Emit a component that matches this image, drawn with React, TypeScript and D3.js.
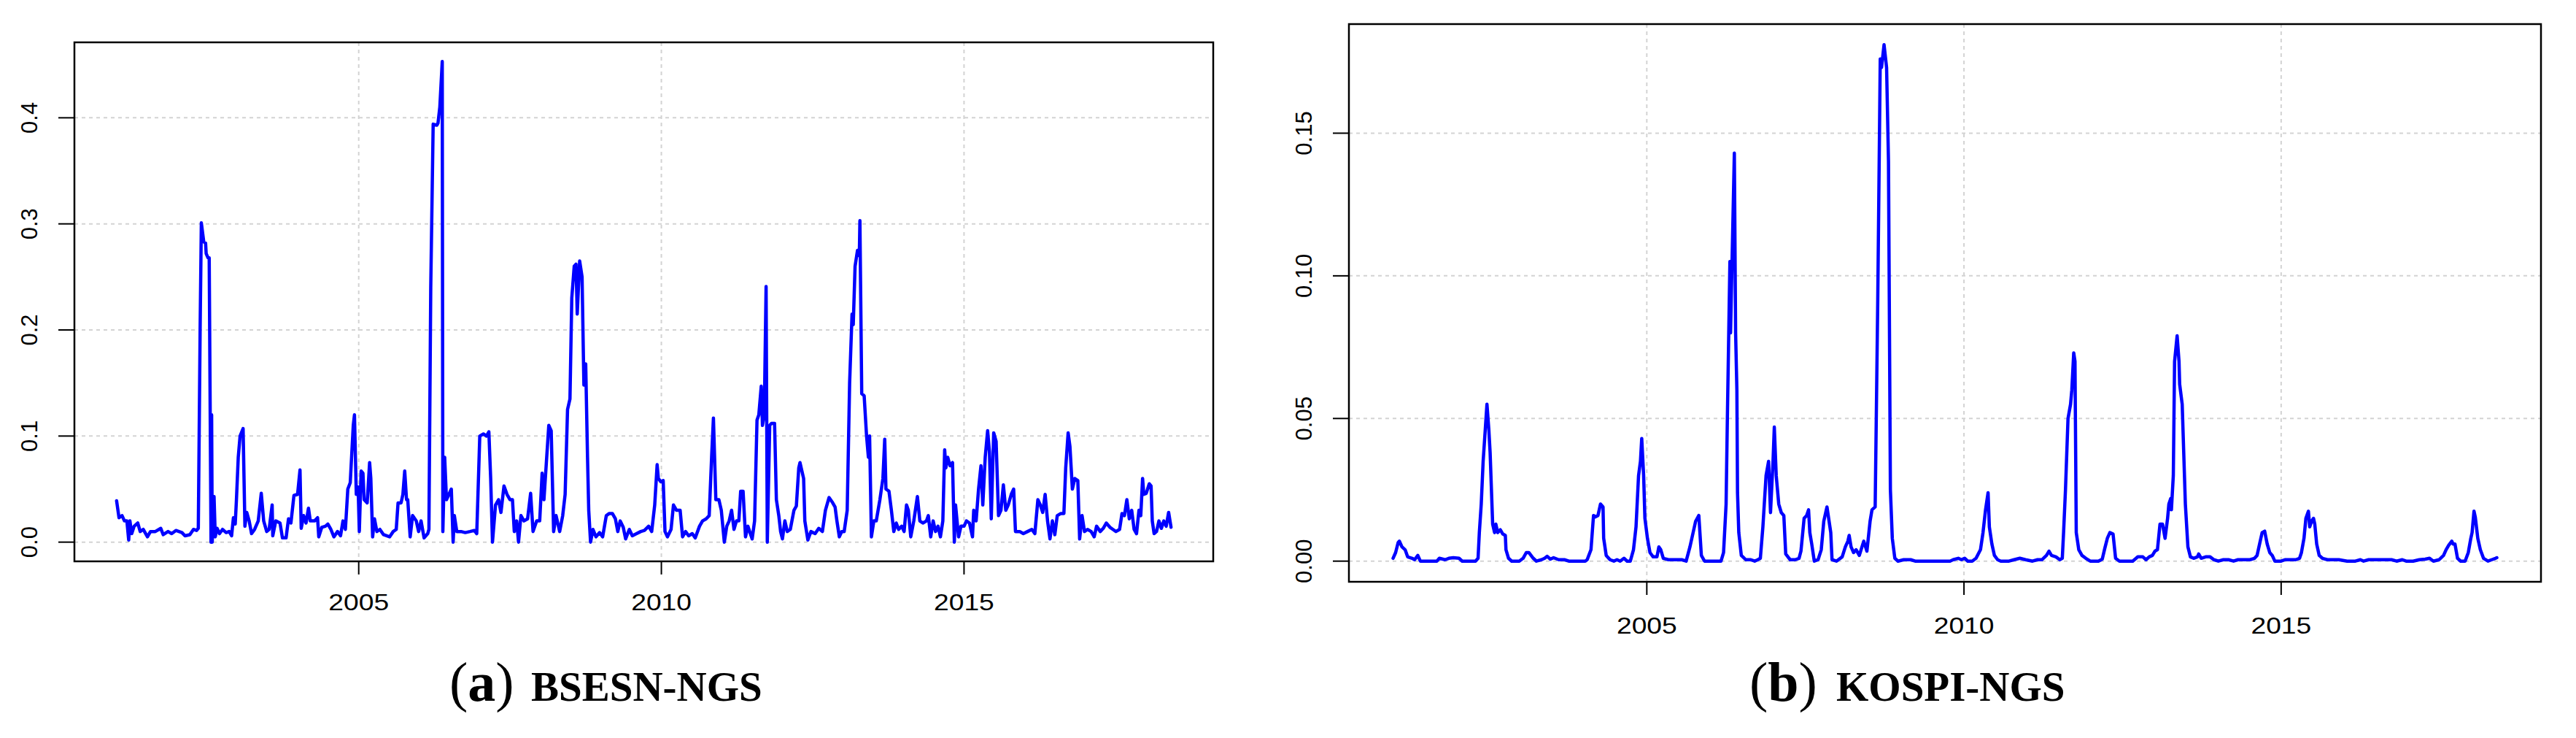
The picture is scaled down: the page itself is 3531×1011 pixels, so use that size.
import React from 'react'
import * as d3 from 'd3'

type Pt = [number, number]

// weekly-ish readings (decimal year, value)
const bsesnSeries: Pt[] = [
  [2001.00, 0.039], [2001.04, 0.023], [2001.09, 0.025], [2001.13, 0.02], [2001.17, 0.02], [2001.20, 0.002],
  [2001.22, 0.02], [2001.25, 0.008], [2001.29, 0.015], [2001.35, 0.018], [2001.39, 0.01], [2001.44, 0.012],
  [2001.51, 0.005], [2001.56, 0.01], [2001.64, 0.01], [2001.73, 0.013], [2001.77, 0.007], [2001.85, 0.01],
  [2001.91, 0.008], [2001.98, 0.011], [2002.08, 0.009], [2002.13, 0.006], [2002.21, 0.007], [2002.27, 0.012],
  [2002.32, 0.011], [2002.35, 0.013], [2002.38, 0.2], [2002.40, 0.301], [2002.44, 0.283], [2002.47, 0.282],
  [2002.48, 0.272], [2002.51, 0.268], [2002.53, 0.268], [2002.56, 0.0], [2002.57, 0.12], [2002.58, 0.0],
  [2002.61, 0.043], [2002.63, 0.005], [2002.66, 0.013], [2002.70, 0.008], [2002.75, 0.012], [2002.81, 0.009],
  [2002.86, 0.01], [2002.90, 0.006], [2002.93, 0.023], [2002.96, 0.017], [2002.98, 0.04], [2003.01, 0.08],
  [2003.04, 0.1], [2003.09, 0.107], [2003.12, 0.015], [2003.15, 0.028], [2003.19, 0.02], [2003.23, 0.008],
  [2003.28, 0.012], [2003.34, 0.02], [2003.39, 0.046], [2003.43, 0.02], [2003.48, 0.01], [2003.52, 0.012],
  [2003.57, 0.035], [2003.58, 0.006], [2003.63, 0.02], [2003.70, 0.018], [2003.74, 0.004], [2003.80, 0.004],
  [2003.84, 0.022], [2003.88, 0.018], [2003.93, 0.044], [2003.99, 0.045], [2004.03, 0.068], [2004.05, 0.013],
  [2004.09, 0.025], [2004.13, 0.018], [2004.17, 0.032], [2004.20, 0.02], [2004.27, 0.02], [2004.32, 0.023],
  [2004.34, 0.005], [2004.39, 0.014], [2004.45, 0.015], [2004.49, 0.017], [2004.54, 0.012], [2004.59, 0.005],
  [2004.65, 0.01], [2004.70, 0.006], [2004.74, 0.02], [2004.78, 0.012], [2004.82, 0.05], [2004.86, 0.056],
  [2004.91, 0.11], [2004.93, 0.12], [2004.96, 0.045], [2004.99, 0.052], [2005.01, 0.01], [2005.04, 0.067],
  [2005.07, 0.065], [2005.09, 0.04], [2005.14, 0.037], [2005.18, 0.075], [2005.20, 0.06], [2005.23, 0.005],
  [2005.26, 0.022], [2005.30, 0.01], [2005.35, 0.012], [2005.41, 0.007], [2005.46, 0.006], [2005.51, 0.005],
  [2005.57, 0.01], [2005.62, 0.012], [2005.65, 0.037], [2005.70, 0.037], [2005.73, 0.045], [2005.76, 0.067],
  [2005.79, 0.04], [2005.81, 0.04], [2005.85, 0.005], [2005.89, 0.025], [2005.95, 0.02], [2005.99, 0.01],
  [2006.03, 0.02], [2006.08, 0.004], [2006.14, 0.008], [2006.16, 0.012], [2006.19, 0.24], [2006.23, 0.394],
  [2006.29, 0.393], [2006.31, 0.395], [2006.34, 0.41], [2006.38, 0.453], [2006.39, 0.01], [2006.42, 0.08],
  [2006.45, 0.04], [2006.49, 0.045], [2006.53, 0.05], [2006.56, 0.0], [2006.58, 0.025], [2006.62, 0.01],
  [2006.69, 0.01], [2006.76, 0.009], [2006.84, 0.01], [2006.91, 0.011], [2006.95, 0.008], [2007.00, 0.1],
  [2007.06, 0.102], [2007.11, 0.1], [2007.15, 0.104], [2007.18, 0.06], [2007.21, 0.0], [2007.26, 0.035],
  [2007.31, 0.04], [2007.35, 0.028], [2007.40, 0.053], [2007.45, 0.045], [2007.50, 0.04], [2007.54, 0.04],
  [2007.57, 0.01], [2007.61, 0.02], [2007.64, 0.0], [2007.68, 0.025], [2007.73, 0.02], [2007.79, 0.022],
  [2007.84, 0.046], [2007.88, 0.01], [2007.94, 0.02], [2007.99, 0.02], [2008.03, 0.065], [2008.06, 0.04],
  [2008.10, 0.075], [2008.14, 0.11], [2008.18, 0.105], [2008.22, 0.01], [2008.26, 0.025], [2008.32, 0.01],
  [2008.37, 0.025], [2008.41, 0.045], [2008.45, 0.125], [2008.49, 0.135], [2008.52, 0.23], [2008.56, 0.26],
  [2008.59, 0.262], [2008.61, 0.215], [2008.65, 0.265], [2008.69, 0.25], [2008.72, 0.148], [2008.75, 0.168],
  [2008.78, 0.08], [2008.80, 0.03], [2008.83, 0.0], [2008.87, 0.012], [2008.92, 0.005], [2008.98, 0.009],
  [2009.03, 0.005], [2009.09, 0.025], [2009.14, 0.027], [2009.19, 0.027], [2009.24, 0.022], [2009.28, 0.01],
  [2009.32, 0.02], [2009.37, 0.014], [2009.41, 0.003], [2009.47, 0.012], [2009.52, 0.006], [2009.59, 0.008],
  [2009.66, 0.01], [2009.72, 0.011], [2009.79, 0.015], [2009.84, 0.01], [2009.89, 0.035], [2009.93, 0.073],
  [2009.95, 0.06], [2009.99, 0.057], [2010.03, 0.058], [2010.06, 0.01], [2010.10, 0.005], [2010.16, 0.012],
  [2010.20, 0.035], [2010.25, 0.03], [2010.31, 0.03], [2010.35, 0.005], [2010.40, 0.01], [2010.45, 0.006],
  [2010.51, 0.008], [2010.56, 0.004], [2010.63, 0.015], [2010.68, 0.02], [2010.74, 0.022], [2010.79, 0.025],
  [2010.83, 0.08], [2010.86, 0.117], [2010.90, 0.04], [2010.95, 0.04], [2010.99, 0.03], [2011.04, 0.0],
  [2011.08, 0.015], [2011.12, 0.02], [2011.16, 0.03], [2011.20, 0.012], [2011.24, 0.02], [2011.28, 0.02],
  [2011.31, 0.048], [2011.35, 0.048], [2011.39, 0.005], [2011.43, 0.015], [2011.47, 0.008], [2011.50, 0.003],
  [2011.54, 0.02], [2011.58, 0.115], [2011.61, 0.12], [2011.65, 0.147], [2011.67, 0.11], [2011.70, 0.12],
  [2011.73, 0.241], [2011.75, 0.0], [2011.79, 0.11], [2011.82, 0.112], [2011.87, 0.112], [2011.90, 0.04],
  [2011.94, 0.025], [2011.97, 0.01], [2012.00, 0.003], [2012.04, 0.02], [2012.08, 0.01], [2012.13, 0.012],
  [2012.19, 0.03], [2012.23, 0.034], [2012.27, 0.07], [2012.29, 0.075], [2012.35, 0.06], [2012.37, 0.02],
  [2012.42, 0.002], [2012.47, 0.01], [2012.54, 0.008], [2012.60, 0.013], [2012.66, 0.01], [2012.71, 0.03],
  [2012.77, 0.042], [2012.82, 0.038], [2012.87, 0.033], [2012.90, 0.02], [2012.94, 0.005], [2012.98, 0.01],
  [2013.02, 0.01], [2013.07, 0.03], [2013.11, 0.15], [2013.15, 0.215], [2013.17, 0.205], [2013.20, 0.26],
  [2013.24, 0.275], [2013.27, 0.27], [2013.28, 0.303], [2013.31, 0.14], [2013.35, 0.138], [2013.39, 0.1],
  [2013.42, 0.08], [2013.44, 0.1], [2013.47, 0.005], [2013.51, 0.02], [2013.55, 0.02], [2013.61, 0.04],
  [2013.66, 0.06], [2013.69, 0.097], [2013.71, 0.05], [2013.76, 0.048], [2013.80, 0.03], [2013.84, 0.01],
  [2013.88, 0.018], [2013.92, 0.012], [2013.97, 0.015], [2014.01, 0.01], [2014.05, 0.035], [2014.08, 0.03],
  [2014.12, 0.005], [2014.17, 0.02], [2014.23, 0.043], [2014.27, 0.02], [2014.32, 0.018], [2014.38, 0.02],
  [2014.41, 0.025], [2014.45, 0.005], [2014.49, 0.02], [2014.53, 0.01], [2014.57, 0.015], [2014.61, 0.005],
  [2014.65, 0.02], [2014.68, 0.087], [2014.70, 0.07], [2014.73, 0.08], [2014.77, 0.072], [2014.81, 0.075],
  [2014.84, 0.0], [2014.86, 0.035], [2014.91, 0.005], [2014.95, 0.015], [2015.00, 0.015], [2015.04, 0.02],
  [2015.09, 0.018], [2015.14, 0.005], [2015.16, 0.03], [2015.20, 0.02], [2015.24, 0.05], [2015.28, 0.072],
  [2015.31, 0.035], [2015.35, 0.08], [2015.39, 0.105], [2015.42, 0.085], [2015.45, 0.022], [2015.49, 0.103],
  [2015.53, 0.095], [2015.57, 0.025], [2015.61, 0.03], [2015.65, 0.054], [2015.69, 0.03], [2015.73, 0.035],
  [2015.78, 0.045], [2015.82, 0.05], [2015.85, 0.01], [2015.92, 0.01], [2015.98, 0.008], [2016.05, 0.01],
  [2016.12, 0.012], [2016.17, 0.008], [2016.22, 0.04], [2016.26, 0.035], [2016.30, 0.028], [2016.34, 0.045],
  [2016.38, 0.02], [2016.42, 0.003], [2016.46, 0.02], [2016.50, 0.007], [2016.54, 0.025], [2016.60, 0.027],
  [2016.65, 0.027], [2016.68, 0.07], [2016.72, 0.103], [2016.75, 0.09], [2016.79, 0.05], [2016.83, 0.06],
  [2016.88, 0.058], [2016.91, 0.003], [2016.95, 0.025], [2016.99, 0.01], [2017.04, 0.012], [2017.10, 0.01],
  [2017.15, 0.005], [2017.19, 0.015], [2017.25, 0.01], [2017.30, 0.013], [2017.35, 0.018], [2017.41, 0.014],
  [2017.46, 0.012], [2017.51, 0.01], [2017.57, 0.012], [2017.61, 0.027], [2017.65, 0.025], [2017.69, 0.04],
  [2017.73, 0.022], [2017.77, 0.03], [2017.81, 0.012], [2017.85, 0.008], [2017.89, 0.03], [2017.92, 0.025],
  [2017.95, 0.06], [2017.97, 0.045], [2018.01, 0.046], [2018.06, 0.055], [2018.09, 0.053], [2018.11, 0.02],
  [2018.14, 0.008], [2018.18, 0.01], [2018.22, 0.02], [2018.26, 0.013], [2018.30, 0.02], [2018.34, 0.015],
  [2018.38, 0.028], [2018.42, 0.014],
]

const kospiSeries: Pt[] = [
  [2001.00, 0.001], [2001.04, 0.003], [2001.08, 0.0065], [2001.10, 0.007], [2001.14, 0.005], [2001.19, 0.004],
  [2001.23, 0.0015], [2001.30, 0.001], [2001.34, 0.0005], [2001.39, 0.002], [2001.43, 0.0], [2001.56, 0.0],
  [2001.69, 0.0], [2001.73, 0.001], [2001.82, 0.0005], [2001.88, 0.001], [2001.95, 0.0012], [2002.04, 0.001],
  [2002.09, 0.0], [2002.19, 0.0], [2002.30, 0.0], [2002.34, 0.001], [2002.36, 0.01], [2002.39, 0.02],
  [2002.42, 0.035], [2002.45, 0.045], [2002.48, 0.055], [2002.51, 0.046], [2002.53, 0.038], [2002.57, 0.013],
  [2002.60, 0.01], [2002.62, 0.013], [2002.65, 0.01], [2002.69, 0.011], [2002.73, 0.0095], [2002.77, 0.009],
  [2002.78, 0.004], [2002.82, 0.001], [2002.87, 0.0], [2002.99, 0.0], [2003.05, 0.001], [2003.10, 0.003],
  [2003.14, 0.003], [2003.21, 0.001], [2003.26, 0.0], [2003.34, 0.0005], [2003.39, 0.001], [2003.43, 0.0017],
  [2003.48, 0.0007], [2003.53, 0.0012], [2003.61, 0.0005], [2003.70, 0.0005], [2003.77, 0.0], [2003.90, 0.0],
  [2004.03, 0.0], [2004.06, 0.0005], [2004.12, 0.004], [2004.16, 0.016], [2004.19, 0.0155], [2004.23, 0.016],
  [2004.27, 0.02], [2004.31, 0.019], [2004.32, 0.008], [2004.36, 0.002], [2004.42, 0.0005], [2004.48, 0.0],
  [2004.53, 0.0005], [2004.58, 0.0], [2004.64, 0.001], [2004.69, 0.0], [2004.74, 0.0], [2004.79, 0.004],
  [2004.83, 0.012], [2004.87, 0.03], [2004.90, 0.035], [2004.92, 0.043], [2004.95, 0.03], [2004.97, 0.015],
  [2005.01, 0.008], [2005.05, 0.003], [2005.10, 0.0015], [2005.16, 0.0015], [2005.19, 0.005], [2005.22, 0.004],
  [2005.26, 0.001], [2005.34, 0.0005], [2005.44, 0.0005], [2005.55, 0.0005], [2005.62, 0.0], [2005.68, 0.005],
  [2005.73, 0.01], [2005.77, 0.014], [2005.82, 0.016], [2005.86, 0.002], [2005.91, 0.0], [2006.04, 0.0],
  [2006.17, 0.0], [2006.21, 0.003], [2006.25, 0.02], [2006.27, 0.05], [2006.31, 0.105], [2006.32, 0.08],
  [2006.38, 0.143], [2006.40, 0.08], [2006.42, 0.06], [2006.43, 0.024], [2006.45, 0.01], [2006.49, 0.002],
  [2006.56, 0.0005], [2006.64, 0.0005], [2006.70, 0.0], [2006.75, 0.0005], [2006.79, 0.001], [2006.83, 0.012],
  [2006.88, 0.03], [2006.92, 0.035], [2006.95, 0.017], [2006.99, 0.035], [2007.01, 0.047], [2007.04, 0.03],
  [2007.08, 0.02], [2007.12, 0.017], [2007.16, 0.016], [2007.19, 0.0025], [2007.26, 0.0005], [2007.34, 0.0005],
  [2007.40, 0.001], [2007.43, 0.0035], [2007.48, 0.015], [2007.52, 0.016], [2007.55, 0.018], [2007.57, 0.01],
  [2007.60, 0.006], [2007.64, 0.0], [2007.70, 0.0005], [2007.75, 0.004], [2007.79, 0.014], [2007.84, 0.019],
  [2007.90, 0.01], [2007.92, 0.0005], [2007.99, 0.0], [2008.08, 0.0015], [2008.13, 0.005], [2008.17, 0.007],
  [2008.19, 0.009], [2008.22, 0.005], [2008.26, 0.003], [2008.30, 0.004], [2008.35, 0.002], [2008.42, 0.007],
  [2008.47, 0.0035], [2008.52, 0.014], [2008.55, 0.018], [2008.60, 0.019], [2008.64, 0.09], [2008.68, 0.176],
  [2008.70, 0.173], [2008.74, 0.181], [2008.78, 0.173], [2008.81, 0.14], [2008.84, 0.025], [2008.87, 0.008],
  [2008.91, 0.001], [2008.96, 0.0], [2009.05, 0.0005], [2009.16, 0.0005], [2009.23, 0.0], [2009.42, 0.0],
  [2009.61, 0.0], [2009.78, 0.0], [2009.83, 0.0005], [2009.91, 0.001], [2009.96, 0.0005], [2010.01, 0.001],
  [2010.06, 0.0], [2010.13, 0.0], [2010.19, 0.001], [2010.26, 0.004], [2010.30, 0.01], [2010.34, 0.018],
  [2010.38, 0.024], [2010.40, 0.012], [2010.44, 0.006], [2010.48, 0.002], [2010.53, 0.0005], [2010.58, 0.0],
  [2010.71, 0.0], [2010.79, 0.0005], [2010.88, 0.001], [2010.97, 0.0005], [2011.08, 0.0], [2011.16, 0.0005],
  [2011.23, 0.0005], [2011.30, 0.002], [2011.34, 0.0035], [2011.38, 0.002], [2011.45, 0.0015], [2011.51, 0.0005],
  [2011.55, 0.001], [2011.57, 0.01], [2011.60, 0.025], [2011.64, 0.05], [2011.68, 0.055], [2011.70, 0.06],
  [2011.73, 0.073], [2011.75, 0.07], [2011.77, 0.01], [2011.81, 0.004], [2011.86, 0.002], [2011.92, 0.001],
  [2011.99, 0.0], [2012.12, 0.0], [2012.18, 0.0007], [2012.22, 0.0045], [2012.26, 0.008], [2012.30, 0.01],
  [2012.35, 0.0095], [2012.39, 0.001], [2012.45, 0.0], [2012.56, 0.0], [2012.66, 0.0], [2012.74, 0.0015],
  [2012.82, 0.0015], [2012.87, 0.0005], [2012.92, 0.0015], [2012.97, 0.002], [2013.01, 0.0035], [2013.05, 0.004],
  [2013.09, 0.013], [2013.13, 0.013], [2013.17, 0.008], [2013.21, 0.015], [2013.23, 0.02], [2013.26, 0.022],
  [2013.27, 0.018], [2013.30, 0.03], [2013.32, 0.07], [2013.36, 0.079], [2013.39, 0.07], [2013.40, 0.062],
  [2013.44, 0.055], [2013.49, 0.02], [2013.53, 0.005], [2013.57, 0.0015], [2013.62, 0.001], [2013.68, 0.0015],
  [2013.70, 0.0025], [2013.74, 0.001], [2013.81, 0.0015], [2013.88, 0.0015], [2013.94, 0.0005], [2014.01, 0.0],
  [2014.09, 0.0005], [2014.17, 0.0005], [2014.25, 0.0], [2014.32, 0.0005], [2014.42, 0.0005], [2014.51, 0.0005],
  [2014.58, 0.001], [2014.62, 0.002], [2014.66, 0.006], [2014.70, 0.01], [2014.74, 0.0105], [2014.78, 0.006],
  [2014.82, 0.003], [2014.86, 0.002], [2014.90, 0.0], [2015.00, 0.0], [2015.06, 0.0005], [2015.16, 0.0005],
  [2015.23, 0.0005], [2015.29, 0.001], [2015.32, 0.003], [2015.36, 0.008], [2015.39, 0.015], [2015.43, 0.0175],
  [2015.45, 0.012], [2015.48, 0.014], [2015.51, 0.015], [2015.53, 0.013], [2015.56, 0.006], [2015.60, 0.002],
  [2015.65, 0.001], [2015.73, 0.0005], [2015.81, 0.0005], [2015.91, 0.0005], [2016.04, 0.0], [2016.17, 0.0],
  [2016.25, 0.0005], [2016.30, 0.0], [2016.38, 0.0005], [2016.45, 0.0005], [2016.56, 0.0005], [2016.66, 0.0005],
  [2016.74, 0.0005], [2016.82, 0.0], [2016.91, 0.0005], [2016.97, 0.0], [2017.08, 0.0], [2017.18, 0.0005],
  [2017.27, 0.0007], [2017.34, 0.001], [2017.40, 0.0], [2017.49, 0.0005], [2017.56, 0.002], [2017.60, 0.004],
  [2017.64, 0.0055], [2017.69, 0.007], [2017.71, 0.006], [2017.74, 0.006], [2017.78, 0.001], [2017.83, 0.0],
  [2017.90, 0.0], [2017.95, 0.003], [2017.99, 0.008], [2018.01, 0.01], [2018.04, 0.0175], [2018.06, 0.0155],
  [2018.10, 0.008], [2018.14, 0.004], [2018.19, 0.001], [2018.26, 0.0], [2018.32, 0.0005], [2018.38, 0.001],
  [2018.40, 0.0012],
]

const yearTicks = [2005, 2010, 2015]
const bsesnTicks = [0, 0.1, 0.2, 0.3, 0.4]
const kospiTicks = [0, 0.05, 0.1, 0.15]

// R-style 4% padding on each side
function padded([a, b]: [number, number]): [number, number] {
  const r = b - a
  return [a - 0.04 * r, b + 0.04 * r]
}

interface PanelProps {
  data: Pt[]
  left: number
  right: number
  top: number
  bottom: number
  yTicks: number[]
  digits: number
  labelGap: number
  letter: string
  name: string
  capX: number
  nameX: number
}

function Panel({ data, left, right, top, bottom, yTicks, digits, labelGap, letter, name, capX, nameX }: PanelProps) {
  const x = d3.scaleLinear()
    .domain(padded(d3.extent(data, d => d[0]) as [number, number]))
    .range([left, right])
  const y = d3.scaleLinear()
    .domain(padded(d3.extent(data, d => d[1]) as [number, number]))
    .range([bottom, top])
  const line = d3.line<Pt>().x(d => x(d[0])).y(d => y(d[1]))
  const grid = { stroke: '#d3d3d3', strokeWidth: 2, strokeDasharray: '5 5' }

  return (
    <g>
      {yTicks.map(t => (
        <line key={'h' + t} x1={left} x2={right} y1={y(t)} y2={y(t)} {...grid} />
      ))}
      {yearTicks.map(t => (
        <line key={'v' + t} x1={x(t)} x2={x(t)} y1={top} y2={bottom} {...grid} />
      ))}
      <path d={line(data) ?? ''} fill="none" stroke="#0000ff" strokeWidth={4.5}
        strokeLinejoin="round" strokeLinecap="round" />
      <rect x={left} y={top} width={right - left} height={bottom - top}
        fill="none" stroke="#000" strokeWidth={2.5} />
      {yTicks.map(t => (
        <g key={'yt' + t}>
          <line x1={left - 22} x2={left} y1={y(t)} y2={y(t)} stroke="#000" strokeWidth={2} />
          <text transform={`translate(${left - 51},${y(t)}) rotate(-90)`} textAnchor="middle"
            fontFamily="'Liberation Sans', Arial, sans-serif" fontSize={31}>
            {t.toFixed(digits)}
          </text>
        </g>
      ))}
      {yearTicks.map(t => (
        <g key={'xt' + t}>
          <line x1={x(t)} x2={x(t)} y1={bottom} y2={bottom + 18} stroke="#000" strokeWidth={2} />
          <text transform={`translate(${x(t)},${bottom + labelGap}) scale(1.2,1)`} textAnchor="middle"
            fontFamily="'Liberation Sans', Arial, sans-serif" fontSize={31}>
            {t}
          </text>
        </g>
      ))}
      <text x={capX} y={960} fontFamily="'Liberation Serif', 'DejaVu Serif', serif" fontSize={76}>
        (<tspan fontWeight="bold">{letter}</tspan>)
      </text>
      <text x={nameX} y={960} fontFamily="'Liberation Serif', 'DejaVu Serif', serif"
        fontSize={57} fontWeight="bold">
        {name}
      </text>
    </g>
  )
}

export default function App() {
  return (
    <svg width={3531} height={1011} viewBox="0 0 3531 1011"
      style={{ position: 'absolute', left: 0, top: 0, background: '#fff' }}>
      <rect width={3531} height={1011} fill="#fff" />
      <Panel data={bsesnSeries} left={102} right={1663} top={58} bottom={769}
        yTicks={bsesnTicks} digits={1} labelGap={67} letter="a" name="BSESN-NGS" capX={616} nameX={728} />
      <Panel data={kospiSeries} left={1849} right={3483} top={33} bottom={797}
        yTicks={kospiTicks} digits={2} labelGap={71} letter="b" name="KOSPI-NGS" capX={2398} nameX={2517} />
    </svg>
  )
}
